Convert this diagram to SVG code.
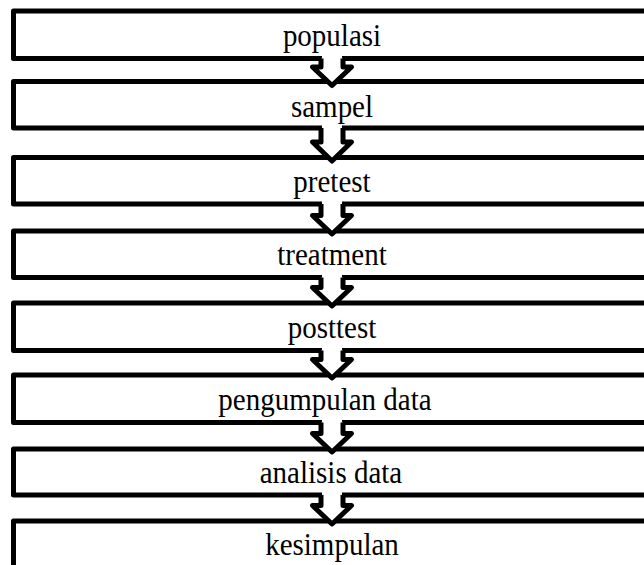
<svg xmlns="http://www.w3.org/2000/svg" width="644" height="565" viewBox="0 0 644 565" font-family="Liberation Serif">
<style>
.box{fill:#fff;stroke:#000;stroke-width:5;stroke-linejoin:round}
.arw{fill:#fff;stroke:#000;stroke-width:5;stroke-linejoin:round;stroke-linecap:butt}
.cover{fill:#fff;stroke:none}
</style>
<rect width="644" height="565" fill="#fff"/>
<g id="n1"><rect class="box" x="13.5" y="11" width="640" height="47.5"/><text font-family="Liberation Serif" style="font-family:'Liberation Serif',serif" font-size="29" text-anchor="middle" fill="#000" x="332" y="46" transform="translate(332,46) scale(1,1.1) translate(-332,-46)">populasi</text></g>
<g id="n2"><rect class="box" x="13.5" y="81.5" width="640" height="46.5"/><text font-family="Liberation Serif" style="font-family:'Liberation Serif',serif" font-size="29" text-anchor="middle" fill="#000" x="332" y="117" transform="translate(332,117) scale(1,1.1) translate(-332,-117)">sampel</text></g>
<g id="n3"><rect class="box" x="13.5" y="157.5" width="640" height="46.5"/><text font-family="Liberation Serif" style="font-family:'Liberation Serif',serif" font-size="29" text-anchor="middle" fill="#000" x="332" y="192" transform="translate(332,192) scale(1,1.1) translate(-332,-192)">pretest</text></g>
<g id="n4"><rect class="box" x="13.5" y="231" width="640" height="46.5"/><text font-family="Liberation Serif" style="font-family:'Liberation Serif',serif" font-size="29" text-anchor="middle" fill="#000" x="332" y="265" transform="translate(332,265) scale(1,1.1) translate(-332,-265)">treatment</text></g>
<g id="n5"><rect class="box" x="13.5" y="303" width="640" height="47.5"/><text font-family="Liberation Serif" style="font-family:'Liberation Serif',serif" font-size="29" text-anchor="middle" fill="#000" x="332" y="338" transform="translate(332,338) scale(1,1.1) translate(-332,-338)">posttest</text></g>
<g id="n6"><rect class="box" x="13.5" y="375" width="640" height="47.5"/><text font-family="Liberation Serif" style="font-family:'Liberation Serif',serif" font-size="29" text-anchor="middle" fill="#000" x="325" y="410" transform="translate(325,410) scale(1,1.1) translate(-325,-410)">pengumpulan data</text></g>
<g id="n7"><rect class="box" x="13.5" y="449" width="640" height="46"/><text font-family="Liberation Serif" style="font-family:'Liberation Serif',serif" font-size="29" text-anchor="middle" fill="#000" x="331" y="483" transform="translate(331,483) scale(1,1.1) translate(-331,-483)">analisis data</text></g>
<g id="n8"><rect class="box" x="13.5" y="521" width="640" height="60"/><text font-family="Liberation Serif" style="font-family:'Liberation Serif',serif" font-size="29" text-anchor="middle" fill="#000" x="332" y="555" transform="translate(332,555) scale(1,1.1) translate(-332,-555)">kesimpulan</text></g>
<g id="connectors">
<g transform="translate(0,58.5)"><rect class="cover" x="322" y="-3" width="20" height="6"/><path class="arw" d="M321,0 V8.5 H312.5 L332,27 L351.5,8.5 H343 V0"/></g>
<g transform="translate(0,128)"><rect class="cover" x="322" y="-3" width="20" height="6"/><path class="arw" d="M321,0 V14 H312.5 L332,33 L351.5,14 H343 V0"/></g>
<g transform="translate(0,204)"><rect class="cover" x="322" y="-3" width="20" height="6"/><path class="arw" d="M321,0 V11.5 H312.5 L332,30 L351.5,11.5 H343 V0"/></g>
<g transform="translate(0,277.5)"><rect class="cover" x="322" y="-3" width="20" height="6"/><path class="arw" d="M321,0 V10 H312.5 L332,28.5 L351.5,10 H343 V0"/></g>
<g transform="translate(0,350.5)"><rect class="cover" x="322" y="-3" width="20" height="6"/><path class="arw" d="M321,0 V9 H312.5 L332,27.5 L351.5,9 H343 V0"/></g>
<g transform="translate(0,422.5)"><rect class="cover" x="322" y="-3" width="20" height="6"/><path class="arw" d="M321,0 V11 H312.5 L332,29.5 L351.5,11 H343 V0"/></g>
<g transform="translate(0,495)"><rect class="cover" x="322" y="-3" width="20" height="6"/><path class="arw" d="M321,0 V10.5 H312.5 L332,29 L351.5,10.5 H343 V0"/></g>
</g>
</svg>
